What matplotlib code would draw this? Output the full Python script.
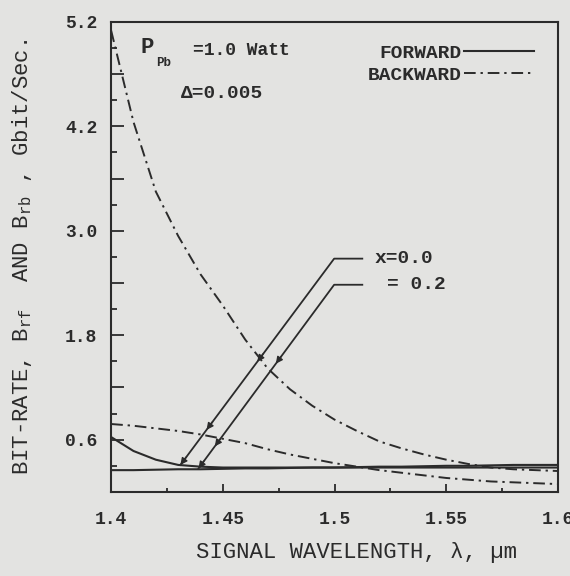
import numpy as np
import matplotlib.pyplot as plt
from matplotlib.lines import Line2D
from matplotlib.ticker import MultipleLocator

plt.rcParams['font.family'] = ['Liberation Mono', 'DejaVu Sans Mono']
plt.rcParams['font.weight'] = 'bold'

ink = '#2b2b2b'
paper = '#e3e3e1'

# signal wavelength (um)
wl = [1.40, 1.41, 1.42, 1.43, 1.44, 1.45, 1.46, 1.47, 1.48, 1.49, 1.50,
      1.51, 1.52, 1.53, 1.54, 1.55, 1.56, 1.57, 1.58, 1.59, 1.60]

# bit-rate, Gbit/s
fwd_x00 = [0.63, 0.47, 0.37, 0.31, 0.29, 0.28, 0.28, 0.28, 0.28, 0.28, 0.28,
           0.28, 0.28, 0.28, 0.28, 0.28, 0.28, 0.28, 0.28, 0.28, 0.28]
fwd_x02 = [0.25, 0.25, 0.255, 0.26, 0.26, 0.265, 0.27, 0.27, 0.275, 0.28, 0.28,
           0.285, 0.29, 0.29, 0.295, 0.30, 0.30, 0.305, 0.31, 0.31, 0.31]
bwd_x00 = [5.30, 4.25, 3.45, 2.94, 2.50, 2.14, 1.75, 1.42, 1.18, 0.99, 0.83,
           0.70, 0.58, 0.50, 0.43, 0.37, 0.32, 0.28, 0.26, 0.25, 0.24]
bwd_x02 = [0.78, 0.76, 0.73, 0.70, 0.66, 0.61, 0.56, 0.49, 0.43, 0.38, 0.33,
           0.29, 0.25, 0.22, 0.19, 0.16, 0.14, 0.12, 0.11, 0.10, 0.09]

xticks = [1.4, 1.45, 1.5, 1.55, 1.6]
xtick_labels = ['1.4', '1.45', '1.5', '1.55', '1.6']
yticks = [0.6, 1.2, 1.8, 2.4, 3.0, 3.6, 4.2, 4.8, 5.4]
ytick_labels = ['0.6', '', '1.8', '', '3.0', '', '4.2', '', '5.2']

# leader lines for the x labels: (wavelength, bit-rate)
leader_x00 = [(1.5124, 2.68), (1.4998, 2.68), (1.4310, 0.31)]
leader_x02 = [(1.5124, 2.38), (1.4998, 2.38), (1.4391, 0.27)]
arrows_x00 = [0.5, 0.83, 1.0]
arrows_x02 = [0.43, 0.88, 1.0]

fig = plt.figure(figsize=(5.7, 5.76), dpi=100, facecolor=paper)
ax = fig.add_axes([0.195, 0.146, 0.784, 0.816], facecolor=paper)

dashdot = (0, (6, 2.5, 1.2, 2.5))
ax.plot(wl, fwd_x00, color=ink, lw=1.5)
ax.plot(wl, fwd_x02, color=ink, lw=1.5)
ax.plot(wl, bwd_x00, color=ink, lw=1.4, ls=dashdot)
ax.plot(wl, bwd_x02, color=ink, lw=1.4, ls=dashdot)


def leader(pts, fracs):
    xs = [p[0] for p in pts]
    ys = [p[1] for p in pts]
    ax.plot(xs, ys, color=ink, lw=1.3)
    (x1, y1), (x2, y2) = pts[1], pts[2]
    for t in fracs:
        px, py = x1 + t * (x2 - x1), y1 + t * (y2 - y1)
        qx, qy = x1 + (t - 0.04) * (x2 - x1), y1 + (t - 0.04) * (y2 - y1)
        ax.annotate('', xy=(px, py), xytext=(qx, qy),
                    arrowprops=dict(arrowstyle='-|>', color=ink, lw=1.0,
                                    mutation_scale=10, shrinkA=0, shrinkB=0))


leader(leader_x00, arrows_x00)
leader(leader_x02, arrows_x02)
ax.text(1.5178, 2.68, 'x=0.0', fontsize=14, color=ink, va='center', ha='left')
ax.text(1.5235, 2.38, '= 0.2', fontsize=14, color=ink, va='center', ha='left')

# annotations
ax.text(0.065, 0.968, 'P', transform=ax.transAxes, fontsize=16, color=ink, va='top')
ax.text(0.1, 0.925, 'Pb', transform=ax.transAxes, fontsize=9, color=ink, va='top')
ax.text(0.183, 0.958, '=1.0 Watt', transform=ax.transAxes, fontsize=13, color=ink, va='top')
ax.text(0.155, 0.866, '\u0394=0.005', transform=ax.transAxes, fontsize=14, color=ink, va='top')

handles = [Line2D([], [], color=ink, lw=1.5),
           Line2D([], [], color=ink, lw=1.4, ls=dashdot)]
ax.legend(handles, ['FORWARD', 'BACKWARD'], loc='upper left', bbox_to_anchor=(0.535, 0.99),
          markerfirst=False, frameon=False, handlelength=3.6, handletextpad=0.1,
          labelspacing=0.25, prop={'size': 14, 'weight': 'bold'}, labelcolor=ink)

ax.set_xlim(1.4, 1.6)
ax.set_ylim(0, 5.4)
ax.set_xticks(xticks)
ax.set_xticklabels(xtick_labels)
ax.set_yticks(yticks)
ax.set_yticklabels(ytick_labels)
ax.xaxis.set_minor_locator(MultipleLocator(0.025))
ax.yaxis.set_minor_locator(MultipleLocator(0.3))
ax.tick_params(which='both', direction='in', colors=ink, labelsize=13, width=1.3,
               top=False, right=False)
ax.tick_params(axis='y', which='major', length=9, pad=10)
ax.tick_params(axis='y', which='minor', length=4)
ax.tick_params(axis='x', which='major', length=6, pad=14)
ax.tick_params(axis='x', which='minor', length=3)
for s in ax.spines.values():
    s.set_color(ink)
    s.set_linewidth(1.5)

ax.set_xlabel('SIGNAL WAVELENGTH, \u03bb, \u00b5m', fontsize=16, color=ink, labelpad=10, x=0.55)
ax.set_ylabel(r'BIT-RATE, B$_{\mathregular{rf}}$  AND B$_{\mathregular{rb}}$ , Gbit/Sec.',
              fontsize=16, color=ink, labelpad=22, y=0.5)

fig.savefig('out.png', dpi=100, facecolor=paper)
